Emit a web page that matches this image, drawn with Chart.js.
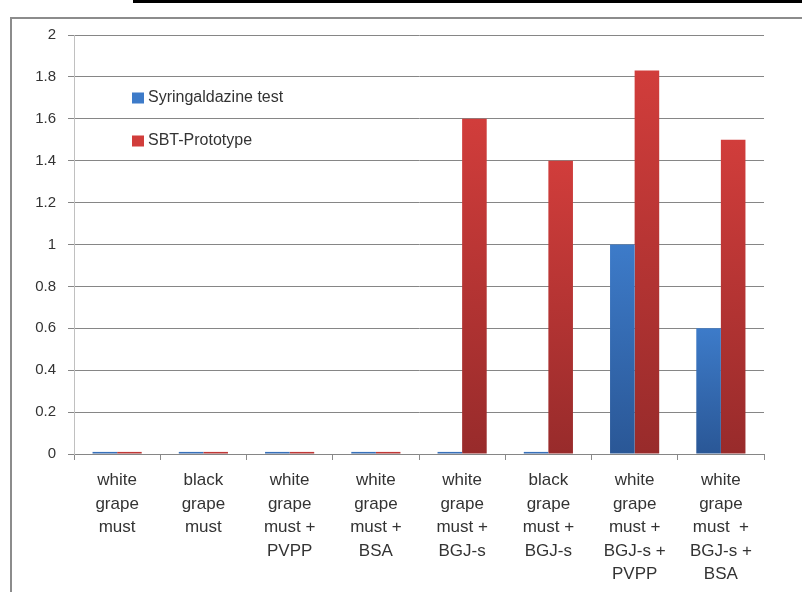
<!DOCTYPE html>
<html>
<head>
<meta charset="utf-8">
<script src="https://cdn.jsdelivr.net/npm/chart.js@4/dist/chart.umd.min.js"></script>
<style>
  body { margin: 0; background: #fff; }
  #wrap { position: relative; width: 802px; height: 592px; overflow: hidden; }
  #topline { position: absolute; left: 133px; top: 0; width: 669px; height: 3px; background: #000; }
  canvas { position: absolute; left: 0; top: 0; }
</style>
</head>
<body>
<div id="wrap">
  <canvas id="chart" width="802" height="592"></canvas>
  <div id="topline"></div>
</div>
<script>
const categories = [
  ["white", "grape", "must"],
  ["black", "grape", "must"],
  ["white", "grape", "must +", "PVPP"],
  ["white", "grape", "must +", "BSA"],
  ["white", "grape", "must +", "BGJ-s"],
  ["black", "grape", "must +", "BGJ-s"],
  ["white", "grape", "must +", "BGJ-s +", "PVPP"],
  ["white", "grape", "must  +", "BGJ-s +", "BSA"]
];
const syringaldazine = [0.01, 0.01, 0.01, 0.01, 0.01, 0.01, 1.0, 0.6];
const sbtPrototype = [0.01, 0.01, 0.01, 0.01, 1.6, 1.4, 1.83, 1.5];
const seriesNames = ["Syringaldazine test", "SBT-Prototype"];
const yTicks = { min: 0, max: 2, step: 0.2 };

const FONT = "'Liberation Sans Narrow', 'Liberation Sans', Arial, sans-serif";

// gradient per bar, light on top, dark at the base
function barFill(top, bottom) {
  return function (ctx) {
    const chart = ctx.chart;
    if (!chart.chartArea || ctx.raw == null) return top;
    const y = chart.scales.y;
    const y0 = y.getPixelForValue(ctx.raw);
    const y1 = y.getPixelForValue(0);
    if (y1 - y0 < 2) return top;
    const g = chart.ctx.createLinearGradient(0, y0, 0, y1);
    g.addColorStop(0, top);
    g.addColorStop(1, bottom);
    return g;
  };
}

const blueTop = "#3d7bc9", blueBottom = "#2a5796";
const redTop = "#d13d3b", redBottom = "#982b2b";

const framePlugin = {
  id: "frame",
  beforeDraw(chart) {
    const c = chart.ctx;
    c.save();
    c.strokeStyle = "#8c8c8c";
    c.lineWidth = 2;
    c.beginPath();
    c.moveTo(11, 592);
    c.lineTo(11, 18);
    c.lineTo(802, 18);
    c.stroke();
    c.restore();
  },
  afterDraw(chart) {
    // legend sits inside the plot area
    const c = chart.ctx;
    const items = [
      { text: seriesNames[0], color: blueTop, y: 98 },
      { text: seriesNames[1], color: redTop, y: 141 }
    ];
    c.save();
    c.font = "16px " + FONT;
    c.textBaseline = "middle";
    items.forEach(it => {
      c.fillStyle = it.color;
      c.fillRect(132, it.y - 5.5, 12, 11);
      c.fillStyle = "#333";
      c.fillText(it.text, 148, it.y);
    });
    c.restore();
  }
};

new Chart(document.getElementById("chart"), {
  type: "bar",
  data: {
    labels: categories,
    datasets: [
      {
        label: seriesNames[0],
        data: syringaldazine,
        backgroundColor: barFill(blueTop, blueBottom),
        categoryPercentage: 0.57,
        barPercentage: 1.0
      },
      {
        label: seriesNames[1],
        data: sbtPrototype,
        backgroundColor: barFill(redTop, redBottom),
        categoryPercentage: 0.57,
        barPercentage: 1.0
      }
    ]
  },
  options: {
    responsive: false,
    animation: false,
    layout: { padding: { left: 11, top: 35, right: 38, bottom: 0 } },
    plugins: {
      legend: { display: false },
      tooltip: { enabled: false }
    },
    scales: {
      x: {
        afterFit(s) { s.height = 138; },
        grid: {
          offset: true,
          drawOnChartArea: false,
          drawTicks: true,
          tickLength: 6,
          color: "#8a8a8a"
        },
        border: { color: "#868686" },
        ticks: {
          color: "#333",
          padding: 9,
          maxRotation: 0,
          autoSkip: false,
          font: { family: FONT, size: 17, lineHeight: 1.38 }
        }
      },
      y: {
        min: yTicks.min,
        max: yTicks.max,
        afterFit(s) { s.width = 63; },
        grid: {
          color: "#868686",
          tickLength: 6
        },
        border: { color: "#c0c0c0" },
        ticks: {
          stepSize: yTicks.step,
          color: "#333",
          padding: 12,
          font: { family: FONT, size: 15 },
          callback: v => String(Number(v.toFixed(1)))
        }
      }
    }
  },
  plugins: [framePlugin]
});
</script>
</body>
</html>
